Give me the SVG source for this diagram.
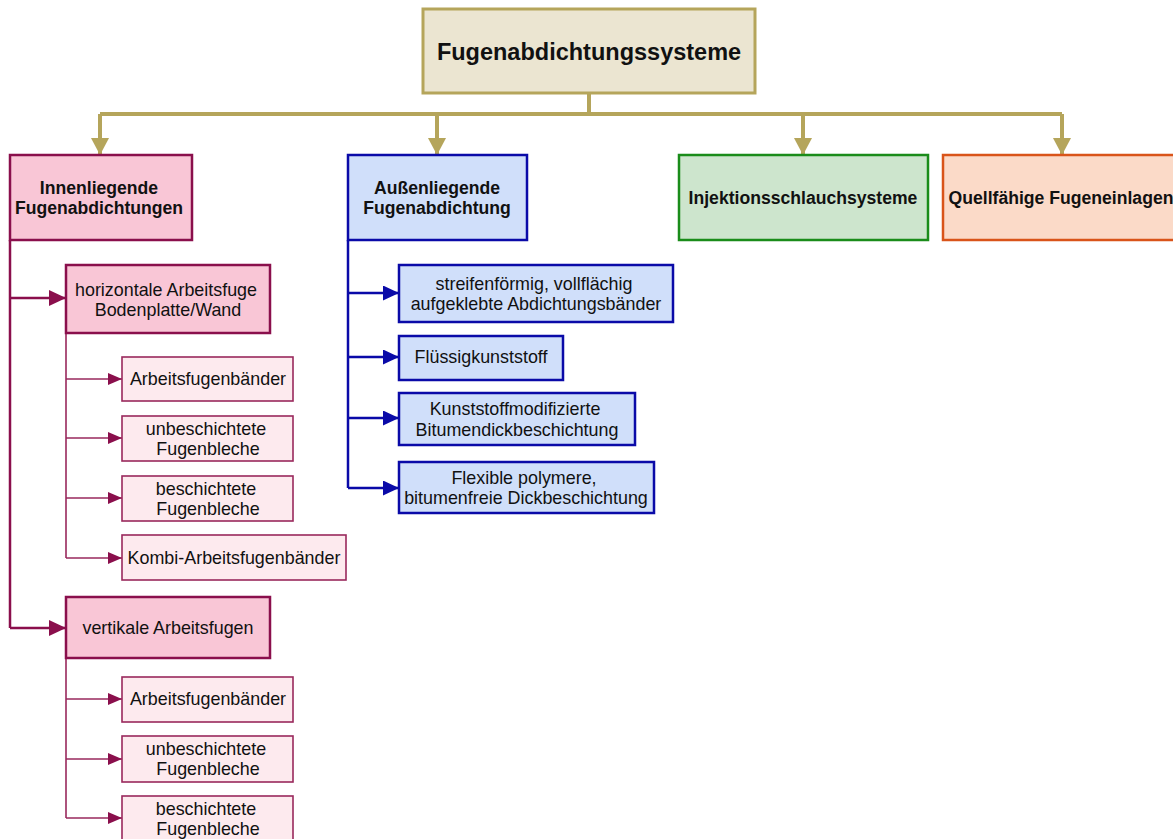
<svg xmlns="http://www.w3.org/2000/svg" width="1173" height="839" viewBox="0 0 1173 839">
<style>
text{font-family:"Liberation Sans",Arial,sans-serif;fill:#111;text-anchor:middle}
.t{font-size:23.5px;font-weight:bold}
.c{font-size:17.6px;font-weight:bold}
.s{font-size:17.9px}
.root{fill:#ebe5d1;stroke:#b5a55b;stroke-width:3}
.pk{fill:#f9c6d6;stroke:#8a0f4c;stroke-width:2.5}
.pks{fill:#fdeaee;stroke:#99285c;stroke-width:1.6}
.bl{fill:#d0dffa;stroke:#0a0aa8;stroke-width:2.5}
.gr{fill:#cde5cd;stroke:#1a8c1a;stroke-width:2.5}
.or{fill:#fbdac8;stroke:#d9541a;stroke-width:2.5}
.lo{fill:none;stroke:#b5a55b;stroke-width:4}
.lp{fill:none;stroke:#8a0f4c;stroke-width:2.5}
.lps{fill:none;stroke:#99285c;stroke-width:1.6}
.lb{fill:none;stroke:#0a0aa8;stroke-width:2.5}
</style>
<defs>
<marker id="ao" markerUnits="userSpaceOnUse" markerWidth="18" markerHeight="20" refX="17" refY="9" orient="auto"><path d="M0,0 L17,9 L0,18 z" fill="#b5a55b"/></marker>
<marker id="ap" markerUnits="userSpaceOnUse" markerWidth="18" markerHeight="18" refX="17" refY="8" orient="auto"><path d="M0,0 L17,8 L0,16 z" fill="#8a0f4c"/></marker>
<marker id="aps" markerUnits="userSpaceOnUse" markerWidth="16" markerHeight="14" refX="14" refY="6" orient="auto"><path d="M0,0 L14,6 L0,12 z" fill="#8a0f4c"/></marker>
<marker id="ab" markerUnits="userSpaceOnUse" markerWidth="18" markerHeight="18" refX="16" refY="7.5" orient="auto"><path d="M0,0 L16,7.5 L0,15 z" fill="#0a0aa8"/></marker>
</defs>
<g id="connectors">
<path class="lo" d="M589,93 V114 M100,114 H1062"/>
<path class="lo" d="M100,114 V155" marker-end="url(#ao)"/>
<path class="lo" d="M437,114 V155" marker-end="url(#ao)"/>
<path class="lo" d="M803,114 V155" marker-end="url(#ao)"/>
<path class="lo" d="M1062,114 V155" marker-end="url(#ao)"/>
<path class="lp" d="M10,240 V628"/>
<path class="lp" d="M10,298 H66" marker-end="url(#ap)"/>
<path class="lp" d="M10,628 H66" marker-end="url(#ap)"/>
<path class="lps" d="M66,333 V558"/>
<path class="lps" d="M66,379 H122" marker-end="url(#aps)"/>
<path class="lps" d="M66,438 H122" marker-end="url(#aps)"/>
<path class="lps" d="M66,498 H122" marker-end="url(#aps)"/>
<path class="lps" d="M66,558 H122" marker-end="url(#aps)"/>
<path class="lps" d="M66,658 V818"/>
<path class="lps" d="M66,699 H122" marker-end="url(#aps)"/>
<path class="lps" d="M66,759 H122" marker-end="url(#aps)"/>
<path class="lps" d="M66,818 H122" marker-end="url(#aps)"/>
<path class="lb" d="M348,240 V488"/>
<path class="lb" d="M348,293 H399" marker-end="url(#ab)"/>
<path class="lb" d="M348,357 H399" marker-end="url(#ab)"/>
<path class="lb" d="M348,418 H399" marker-end="url(#ab)"/>
<path class="lb" d="M348,488 H399" marker-end="url(#ab)"/>
</g>
<g id="root"><rect class="root" x="423" y="9" width="332" height="84"/><text class="t" x="589" y="60">Fugenabdichtungssysteme</text></g>
<g id="innen"><rect class="pk" x="10" y="155" width="182" height="85"/><text class="c" x="99" y="194">Innenliegende</text><text class="c" x="99" y="214">Fugenabdichtungen</text></g>
<g id="aussen"><rect class="bl" x="348" y="155" width="179" height="85"/><text class="c" x="437" y="194">Außenliegende</text><text class="c" x="437" y="214">Fugenabdichtung</text></g>
<g id="injektion"><rect class="gr" x="679" y="155" width="249" height="85"/><text class="c" x="803" y="204">Injektionsschlauchsysteme</text></g>
<g id="quell"><rect class="or" x="943" y="155" width="240" height="85"/><text class="c" x="1061" y="204">Quellfähige Fugeneinlagen</text></g>
<g id="horiz"><rect class="pk" x="66" y="265" width="204" height="68"/><text class="s" x="166" y="296">horizontale Arbeitsfuge</text><text class="s" x="168" y="316">Bodenplatte/Wand</text></g>
<g id="h1"><rect class="pks" x="122" y="357" width="171" height="44"/><text class="s" x="208" y="385">Arbeitsfugenbänder</text></g>
<g id="h2"><rect class="pks" x="122" y="416" width="171" height="45"/><text class="s" x="206" y="435">unbeschichtete</text><text class="s" x="208" y="455">Fugenbleche</text></g>
<g id="h3"><rect class="pks" x="122" y="476" width="171" height="45"/><text class="s" x="206" y="495">beschichtete</text><text class="s" x="208" y="515">Fugenbleche</text></g>
<g id="h4"><rect class="pks" x="122" y="535" width="224" height="45"/><text class="s" x="234" y="564">Kombi-Arbeitsfugenbänder</text></g>
<g id="vert"><rect class="pk" x="66" y="597" width="204" height="61"/><text class="s" x="168" y="634">vertikale Arbeitsfugen</text></g>
<g id="v1"><rect class="pks" x="122" y="677" width="171" height="45"/><text class="s" x="208" y="705">Arbeitsfugenbänder</text></g>
<g id="v2"><rect class="pks" x="122" y="736" width="171" height="46"/><text class="s" x="206" y="755">unbeschichtete</text><text class="s" x="208" y="775">Fugenbleche</text></g>
<g id="v3"><rect class="pks" x="122" y="796" width="171" height="50"/><text class="s" x="206" y="815">beschichtete</text><text class="s" x="208" y="835">Fugenbleche</text></g>
<g id="b1"><rect class="bl" x="399" y="265" width="274" height="57"/><text class="s" x="534" y="290">streifenförmig, vollflächig</text><text class="s" x="536" y="310">aufgeklebte Abdichtungsbänder</text></g>
<g id="b2"><rect class="bl" x="399" y="336" width="164" height="44"/><text class="s" x="481" y="363">Flüssigkunststoff</text></g>
<g id="b3"><rect class="bl" x="399" y="393" width="236" height="52"/><text class="s" x="515" y="415">Kunststoffmodifizierte</text><text class="s" x="517" y="436">Bitumendickbeschichtung</text></g>
<g id="b4"><rect class="bl" x="399" y="462" width="255" height="51"/><text class="s" x="524" y="484">Flexible polymere,</text><text class="s" x="526" y="504">bitumenfreie Dickbeschichtung</text></g>
</svg>
